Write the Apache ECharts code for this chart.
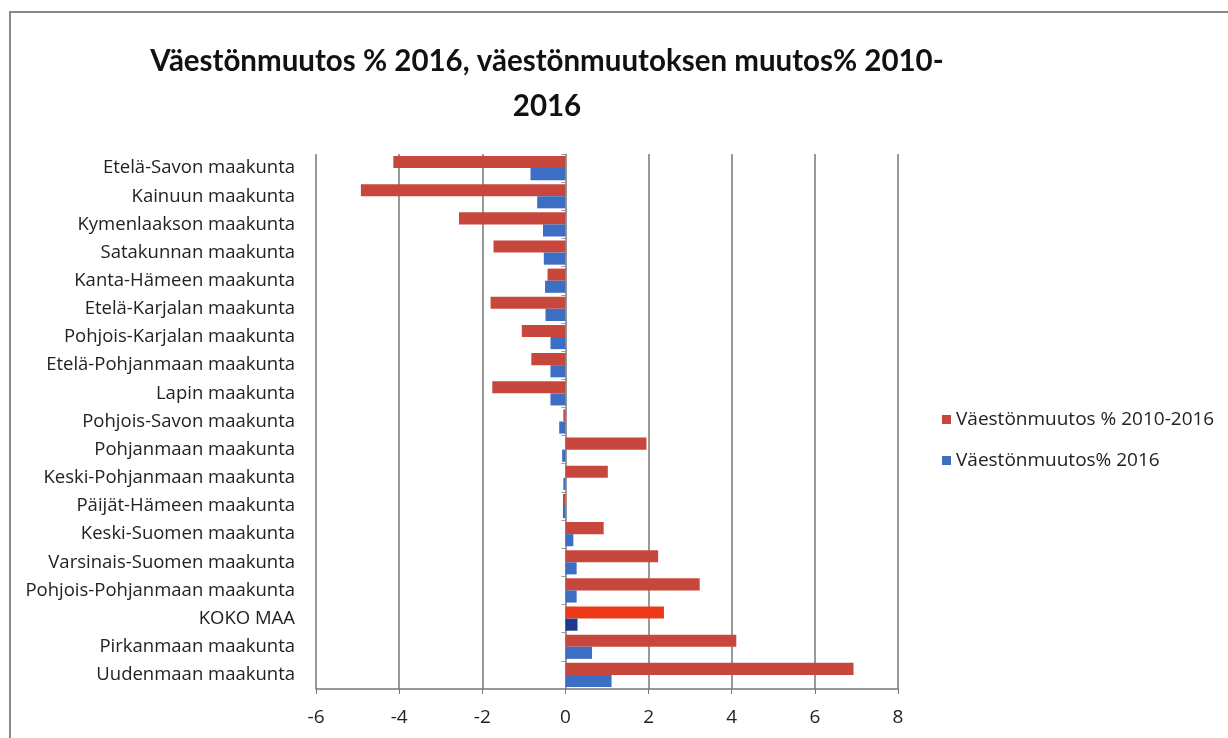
<!DOCTYPE html>
<html>
<head>
<meta charset="utf-8">
<script src="https://cdn.jsdelivr.net/npm/echarts@6/dist/echarts.min.js"></script>
<style>
  html, body { margin: 0; padding: 0; background: #fff; }
  #main { width: 1228px; height: 738px; }
</style>
</head>
<body>
<div id="main"></div>
<script>
"use strict"
// categories bottom -> top (as drawn on the y axis)
const regions = [
    'Uudenmaan maakunta',
    'Pirkanmaan maakunta',
    'KOKO MAA',
    'Pohjois-Pohjanmaan maakunta',
    'Varsinais-Suomen maakunta',
    'Keski-Suomen maakunta',
    'Päijät-Hämeen maakunta',
    'Keski-Pohjanmaan maakunta',
    'Pohjanmaan maakunta',
    'Pohjois-Savon maakunta',
    'Lapin maakunta',
    'Etelä-Pohjanmaan maakunta',
    'Pohjois-Karjalan maakunta',
    'Etelä-Karjalan maakunta',
    'Kanta-Hämeen maakunta',
    'Satakunnan maakunta',
    'Kymenlaakson maakunta',
    'Kainuun maakunta',
    'Etelä-Savon maakunta'
];
// Väestönmuutos % 2010-2016
const change2010_2016 = [6.93, 4.11, 2.37, 3.23, 2.23, 0.92, -0.06, 1.02, 1.95, -0.05,
    -1.76, -0.82, -1.05, -1.80, -0.43, -1.73, -2.56, -4.92, -4.14];
// Väestönmuutos% 2016
const change2016 = [1.11, 0.64, 0.29, 0.27, 0.27, 0.19, -0.06, -0.05, -0.08, -0.15,
    -0.36, -0.36, -0.36, -0.48, -0.49, -0.52, -0.54, -0.68, -0.84];
const xTicks = [-6, -4, -2, 0, 2, 4, 6, 8];

const RED = '#c8473d';
const BLUE = '#3c6fc4';

// the whole-country row is highlighted with its own colours
function colorise(values, special) {
    return values.map(function (v, i) {
        if (regions[i] === 'KOKO MAA') {
            return { value: v, itemStyle: { color: special } };
        }
        return v;
    });
}

const chart = echarts.init(document.getElementById('main'));
const option = {
    backgroundColor: '#fff',
    animation: false,
    title: {
        text: 'Väestönmuutos % 2016, väestönmuutoksen muutos% 2010-\n2016',
        left: 542,
        top: 34,
        textAlign: 'center',
        textStyle: {
            fontFamily: 'Lato',
            fontWeight: 'bold',
            fontSize: 29.5,
            lineHeight: 45,
            color: '#111'
        }
    },
    graphic: [{
        type: 'rect',
        shape: { x: 10, y: 12, width: 1240, height: 760 },
        style: { fill: 'none', stroke: '#8a8a8a', lineWidth: 2 },
        silent: true
    }],
    legend: {
        orient: 'vertical',
        left: 937,
        top: 405,
        itemWidth: 9,
        itemHeight: 9,
        itemGap: 22,
        icon: 'rect',
        data: ['Väestönmuutos % 2010-2016', 'Väestönmuutos% 2016'],
        textStyle: { fontFamily: 'Open Sans', fontSize: 19, color: '#222' }
    },
    grid: {
        left: 316,
        right: 330,
        top: 154,
        bottom: 49,
        containLabel: false,
        outerBoundsMode: 'none'
    },
    xAxis: {
        type: 'value',
        min: xTicks[0],
        max: xTicks[xTicks.length - 1],
        interval: 2,
        axisLine: { show: true, lineStyle: { color: '#777', width: 1.5 } },
        axisTick: { show: true, length: 5, lineStyle: { color: '#777' } },
        splitLine: { show: true, lineStyle: { color: '#777', width: 1.5 } },
        axisLabel: {
            margin: 19,
            fontFamily: 'Open Sans',
            fontSize: 19,
            color: '#222'
        }
    },
    yAxis: {
        type: 'category',
        data: regions,
        axisLine: { show: true, onZero: true, lineStyle: { color: '#999', width: 1 } },
        axisTick: { show: true, length: 4, lineStyle: { color: '#999' } },
        axisLabel: {
            margin: 21,
            fontFamily: 'Open Sans',
            fontSize: 18.5,
            color: '#222'
        }
    },
    series: [{
        name: 'Väestönmuutos % 2010-2016',
        type: 'bar',
        data: colorise(change2010_2016, '#ec3a18'),
        itemStyle: { color: RED },
        barCategoryGap: '14%',
        barGap: '0%'
    }, {
        name: 'Väestönmuutos% 2016',
        type: 'bar',
        data: colorise(change2016, '#1d3b8e'),
        itemStyle: { color: BLUE },
        barCategoryGap: '14%',
        barGap: '0%'
    }]
};
chart.setOption(option);
</script>
</body>
</html>
